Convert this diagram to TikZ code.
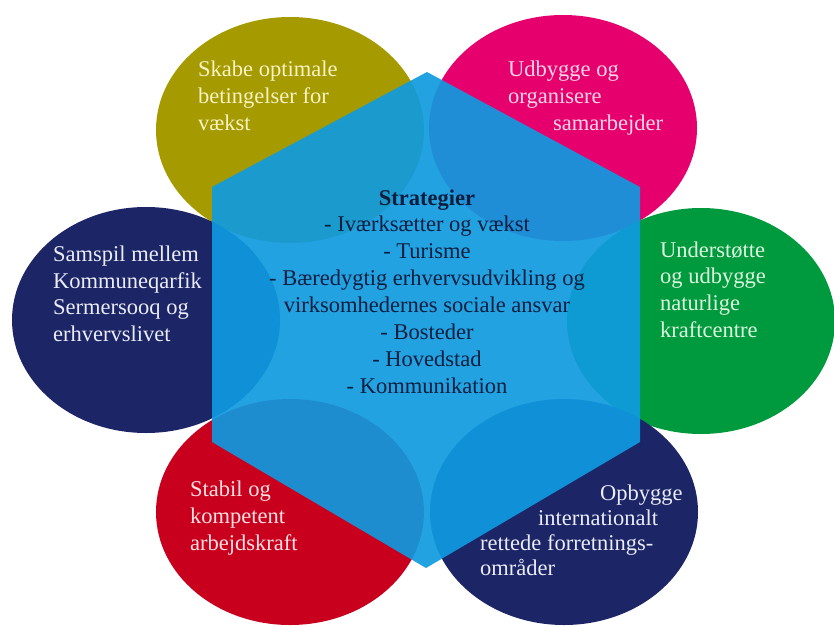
\documentclass[tikz,border=0pt]{standalone}
\usepackage{fontspec}
\setmainfont{Liberation Serif}
\usetikzlibrary{shapes.geometric}
\definecolor{olivec}{RGB}{165,155,0}
\definecolor{magc}{RGB}{229,0,110}
\definecolor{navyc}{RGB}{28,37,102}
\definecolor{greenc}{RGB}{0,154,62}
\definecolor{redc}{RGB}{200,0,30}
\definecolor{hexc}{RGB}{16,154,224}
\definecolor{ctext}{RGB}{12,30,62}
\definecolor{olivet}{RGB}{248,242,196}
\definecolor{magt}{RGB}{255,214,230}
\definecolor{navyt}{RGB}{234,236,248}
\definecolor{greent}{RGB}{222,245,222}
\definecolor{redt}{RGB}{255,226,226}
\newcommand{\mylines}[2]{\begin{tabular}[t]{@{}#1@{}}#2\end{tabular}}
\tikzset{
  blob/.style={ellipse, inner sep=0pt, outer sep=0pt, minimum width=268pt, minimum height=226pt, draw=none},
  lbl/.style={anchor=base west, inner sep=0pt, font=\fontsize{22.5}{26.7}\selectfont},
  ctr/.style={anchor=base, inner sep=0pt, font=\fontsize{22.5}{26.9}\selectfont, text=ctext}
}
\begin{document}
\begin{tikzpicture}[x=1pt,y=-1pt]
\useasboundingbox (0,0) rectangle (834,626);
% ellipses
\node[blob, fill=olivec] (e1) at (290,130) {};
\node[blob, fill=magc] (e2) at (563,128) {};
\node[blob, fill=navyc] (e3) at (146,320) {};
\node[blob, fill=greenc] (e4) at (701,321) {};
\node[blob, fill=redc] (e5) at (290,512) {};
\node[blob, fill=navyc] (e6) at (564,512) {};
% hexagon
\fill[hexc, fill opacity=0.92] (427,72) -- (640,187) -- (640,442) -- (426,568) -- (212,442) -- (212,187) -- cycle;
% texts
\node[lbl, text=olivet] (t1) at (198,76.7) {\mylines{l}{Skabe optimale\\betingelser for\\vækst}};
\node[lbl, text=magt] (t2) at (508,76.7) {\mylines{l}{Udbygge og\\organisere\\\hspace*{45pt}samarbejder}};
\node[lbl, text=navyt] (t3) at (53,261.5) {\mylines{l}{Samspil mellem\\Kommuneqarfik\\Sermersooq og\\erhvervslivet}};
\node[lbl, text=greent] (t4) at (660,257) {\mylines{l}{Understøtte\\og udbygge\\naturlige\\kraftcentre}};
\node[lbl, text=redt] (t5) at (190,496.7) {\mylines{l}{Stabil og\\kompetent\\arbejdskraft}};
\node[lbl, text=navyt, font=\fontsize{22.5}{25}\selectfont] (t6) at (480,500) {\mylines{l}{\hspace*{120pt}Opbygge\\\hspace*{58pt}internationalt\\rettede forretnings-\\områder}};
\node[ctr] (c) at (427,205) {\mylines{c}{\textbf{Strategier}\\- Iværksætter og vækst\\- Turisme\\- Bæredygtig erhvervsudvikling og\\virksomhedernes sociale ansvar\\- Bosteder\\- Hovedstad\\- Kommunikation}};
\end{tikzpicture}
\end{document}
